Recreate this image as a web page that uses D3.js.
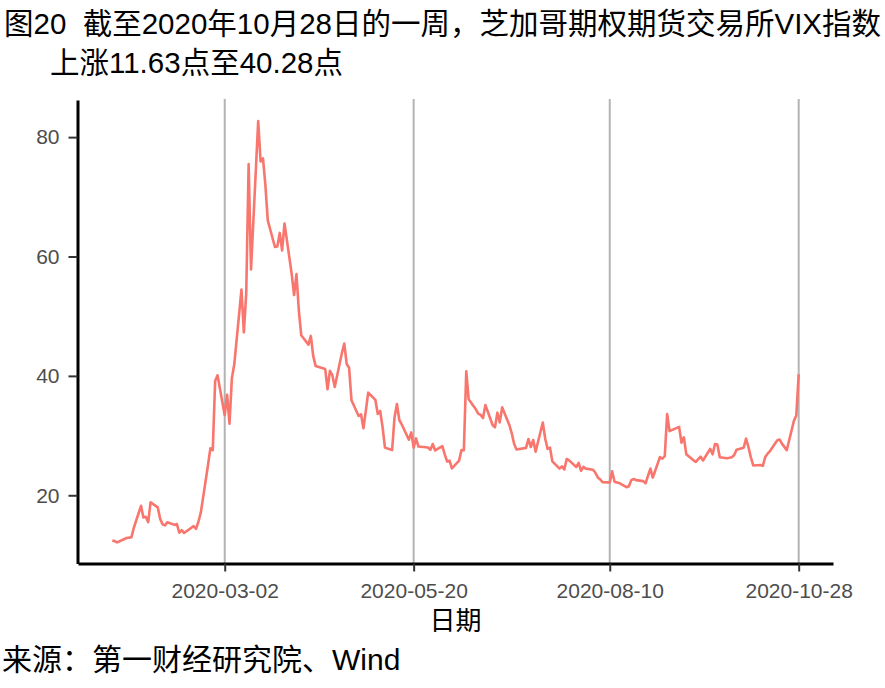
<!DOCTYPE html>
<html><head><meta charset="utf-8">
<script src="https://cdn.jsdelivr.net/npm/d3@7"></script>
<style>
html,body{margin:0;padding:0;background:#fff;}
text{font-family:"Liberation Sans",Arial,"Noto Sans CJK SC",sans-serif;}
</style></head>
<body>
<svg id="chart" width="885" height="688"></svg>
<script>
const titleLine1 = "图20  截至2020年10月28日的一周，芝加哥期权期货交易所VIX指数";
const titleLine2 = "上涨11.63点至40.28点";
const sourceText = "来源：第一财经研究院、Wind";
const xAxisTitle = "日期";
const xTickLabels = ["2020-03-02","2020-05-20","2020-08-10","2020-10-28"];
const yTickValues = [20,40,60,80];

const dates = [
"2020-01-15","2020-01-16","2020-01-17","2020-01-21","2020-01-22","2020-01-23","2020-01-24","2020-01-27","2020-01-28","2020-01-29","2020-01-30","2020-01-31",
"2020-02-03","2020-02-04","2020-02-05","2020-02-06","2020-02-07","2020-02-10","2020-02-11","2020-02-12","2020-02-13","2020-02-14","2020-02-18","2020-02-19","2020-02-20","2020-02-21","2020-02-24","2020-02-25","2020-02-26","2020-02-27","2020-02-28",
"2020-03-02","2020-03-03","2020-03-04","2020-03-05","2020-03-06","2020-03-09","2020-03-10","2020-03-11","2020-03-12","2020-03-13","2020-03-16","2020-03-17","2020-03-18","2020-03-19","2020-03-20","2020-03-23","2020-03-24","2020-03-25","2020-03-26","2020-03-27","2020-03-30","2020-03-31",
"2020-04-01","2020-04-02","2020-04-03","2020-04-06","2020-04-07","2020-04-08","2020-04-09","2020-04-13","2020-04-14","2020-04-15","2020-04-16","2020-04-17","2020-04-20","2020-04-21","2020-04-22","2020-04-23","2020-04-24","2020-04-27","2020-04-28","2020-04-29","2020-04-30",
"2020-05-01","2020-05-04","2020-05-05","2020-05-06","2020-05-07","2020-05-08","2020-05-11","2020-05-12","2020-05-13","2020-05-14","2020-05-15","2020-05-18","2020-05-19","2020-05-20","2020-05-21","2020-05-22","2020-05-26","2020-05-27","2020-05-28","2020-05-29",
"2020-06-01","2020-06-02","2020-06-03","2020-06-04","2020-06-05","2020-06-08","2020-06-09","2020-06-10","2020-06-11","2020-06-12","2020-06-15","2020-06-16","2020-06-17","2020-06-18","2020-06-19","2020-06-22","2020-06-23","2020-06-24","2020-06-25","2020-06-26","2020-06-29","2020-06-30",
"2020-07-01","2020-07-02","2020-07-06","2020-07-07","2020-07-08","2020-07-09","2020-07-10","2020-07-13","2020-07-14","2020-07-15","2020-07-16","2020-07-17","2020-07-20","2020-07-21","2020-07-22","2020-07-23","2020-07-24","2020-07-27","2020-07-28","2020-07-29","2020-07-30","2020-07-31",
"2020-08-03","2020-08-04","2020-08-05","2020-08-06","2020-08-07","2020-08-10","2020-08-11","2020-08-12","2020-08-13","2020-08-14","2020-08-17","2020-08-18","2020-08-19","2020-08-20","2020-08-21","2020-08-24","2020-08-25","2020-08-26","2020-08-27","2020-08-28","2020-08-31",
"2020-09-01","2020-09-02","2020-09-03","2020-09-04","2020-09-08","2020-09-09","2020-09-10","2020-09-11","2020-09-14","2020-09-15","2020-09-16","2020-09-17","2020-09-18","2020-09-21","2020-09-22","2020-09-23","2020-09-24","2020-09-25","2020-09-28","2020-09-29","2020-09-30",
"2020-10-01","2020-10-02","2020-10-05","2020-10-06","2020-10-07","2020-10-08","2020-10-09","2020-10-12","2020-10-13","2020-10-14","2020-10-15","2020-10-16","2020-10-19","2020-10-20","2020-10-21","2020-10-22","2020-10-23","2020-10-26","2020-10-27","2020-10-28"
];
const vix = [
12.42,12.32,12.10,12.85,12.91,12.98,14.56,18.23,16.28,16.39,15.49,18.84,
17.97,16.05,15.15,14.96,15.47,15.04,15.18,13.74,14.15,13.68,14.83,14.38,15.56,17.08,25.03,27.85,27.56,39.16,40.11,
33.42,36.82,31.99,39.62,41.94,54.46,47.30,53.90,75.47,57.83,82.69,75.91,76.45,72.00,66.04,61.59,61.67,63.95,61.00,65.54,57.08,53.54,
57.06,50.91,46.80,45.24,46.70,43.35,41.67,41.17,37.76,40.84,40.11,38.15,43.83,45.41,41.98,41.38,35.93,33.29,33.57,31.23,34.15,
37.19,35.97,33.61,34.12,31.44,27.98,27.57,33.04,35.28,32.61,31.89,29.30,30.53,27.99,29.53,28.16,28.01,27.62,28.59,27.51,
28.23,26.84,25.66,25.81,24.52,25.81,27.57,27.57,40.79,36.09,34.40,33.67,33.47,32.94,35.12,31.77,31.37,33.84,32.22,34.73,31.78,30.43,
28.62,27.68,27.94,29.43,28.08,29.26,27.29,32.19,29.52,27.76,28.00,25.68,24.46,24.84,24.32,26.08,25.84,24.74,25.44,24.10,24.76,24.46,
24.28,23.76,22.99,22.65,22.21,22.13,24.03,22.28,22.13,22.05,21.35,21.51,22.54,22.72,22.54,22.37,22.03,23.27,24.47,22.96,26.41,
26.12,26.57,33.60,30.75,31.46,28.81,29.71,26.87,25.85,25.59,26.04,26.46,25.83,27.78,26.86,28.58,28.51,26.38,26.19,26.27,26.37,
26.70,27.63,27.96,29.48,28.06,26.36,25.00,25.07,24.93,26.40,26.97,27.41,29.18,29.35,28.65,28.11,27.55,32.46,33.35,40.28
];

const parse = d3.utcParse("%Y-%m-%d");
const data = dates.map((d,i)=>({date:parse(d), value:vix[i]}));

const svg = d3.select("#chart");
svg.append("rect").attr("width",885).attr("height",688).attr("fill","#fff");

const panel = {left:78, right:833, top:100, bottom:563.5};

// ggplot-like 5% expansion
const xExt = d3.extent(data, d=>d.date);
const xSpan = xExt[1]-xExt[0];
const x = d3.scaleUtc()
  .domain([new Date(+xExt[0]-0.05*xSpan), new Date(+xExt[1]+0.05*xSpan)])
  .range([panel.left, panel.right]);
const yExt = d3.extent(data, d=>d.value);
const ySpan = yExt[1]-yExt[0];
const y = d3.scaleLinear()
  .domain([yExt[0]-0.05*ySpan, yExt[1]+0.05*ySpan])
  .range([panel.bottom, panel.top]);

const xTicks = xTickLabels.map(parse);

// vertical gridlines
svg.append("g").selectAll("line").data(xTicks).join("line")
  .attr("x1",d=>x(d)).attr("x2",d=>x(d))
  .attr("y1",panel.top-1).attr("y2",panel.bottom)
  .attr("stroke","#B3B3B3").attr("stroke-width",2);

// line
svg.append("path").datum(data)
  .attr("fill","none").attr("stroke","#F8766D").attr("stroke-width",2.6)
  .attr("stroke-linejoin","round")
  .attr("d", d3.line().x(d=>x(d.date)).y(d=>y(d.value)));

// y axis
const yAxis = svg.append("g").attr("transform",`translate(${panel.left-0.5},0)`)
  .call(d3.axisLeft(y).tickValues(yTickValues).tickSize(9).tickPadding(9).tickSizeOuter(0));
yAxis.select(".domain").attr("stroke","#000").attr("stroke-width",3);
yAxis.selectAll(".tick line").attr("stroke","#333").attr("stroke-width",2);
yAxis.selectAll(".tick text").attr("fill","#4D4D4D").style("font-size","21px").style("font-family",'"Liberation Sans",Arial,sans-serif');

// x axis
const xAxis = svg.append("g").attr("transform",`translate(0,${panel.bottom})`)
  .call(d3.axisBottom(x).tickValues(xTicks).tickFormat(d3.utcFormat("%Y-%m-%d")).tickSize(8).tickPadding(12).tickSizeOuter(0));
xAxis.select(".domain").attr("stroke","#000").attr("stroke-width",3);
xAxis.selectAll(".tick line").attr("stroke","#333").attr("stroke-width",2);
xAxis.selectAll(".tick text").attr("fill","#4D4D4D").style("font-size","21px").style("font-family",'"Liberation Sans",Arial,sans-serif');

// axis title
svg.append("text").attr("x",(panel.left+panel.right)/2).attr("y",630)
  .attr("text-anchor","middle").attr("fill","#000").style("font-size","26px").text(xAxisTitle);

// titles
svg.append("text").attr("x",4).attr("y",34).attr("fill","#000").style("font-size","29.5px")
  .attr("xml:space","preserve").style("white-space","pre").text(titleLine1);
svg.append("text").attr("x",50).attr("y",73).attr("fill","#000").style("font-size","29.5px").text(titleLine2);

// source
svg.append("text").attr("x",2).attr("y",670).attr("fill","#000").style("font-size","30px").text(sourceText);
</script>
</body></html>
